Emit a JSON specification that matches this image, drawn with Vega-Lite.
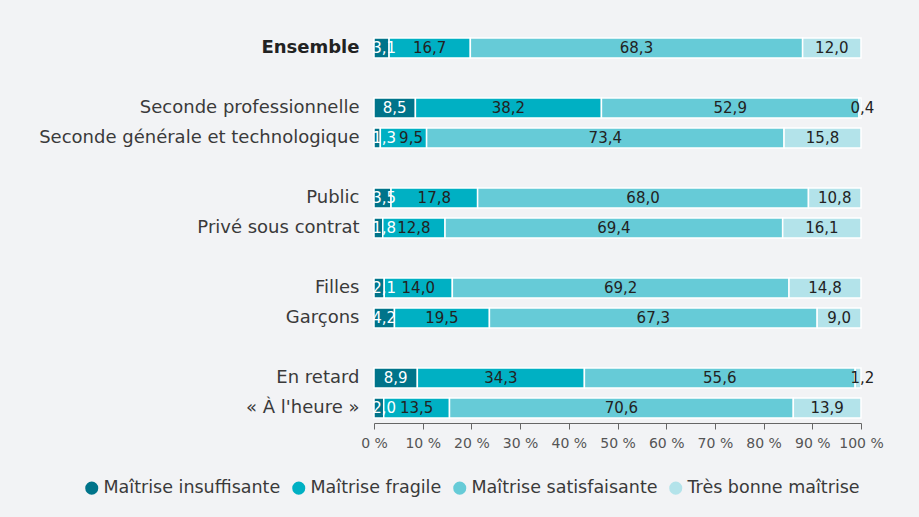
{
  "$schema": "https://vega.github.io/schema/vega-lite/v6.json",
  "width": 487,
  "height": 390,
  "autosize": {"type": "none"},
  "padding": {"left": 374, "top": 33, "right": 58, "bottom": 94},
  "background": "#f2f3f5",
  "config": {"view": {"stroke": null}, "font": "DejaVu Sans"},
  "data": {
    "values": [
      {"group": "Ensemble", "category": "Maîtrise insuffisante", "value": 3.1},
      {"group": "Ensemble", "category": "Maîtrise fragile", "value": 16.7},
      {"group": "Ensemble", "category": "Maîtrise satisfaisante", "value": 68.3},
      {"group": "Ensemble", "category": "Très bonne maîtrise", "value": 12.0},
      {"group": "Seconde professionnelle", "category": "Maîtrise insuffisante", "value": 8.5},
      {"group": "Seconde professionnelle", "category": "Maîtrise fragile", "value": 38.2},
      {"group": "Seconde professionnelle", "category": "Maîtrise satisfaisante", "value": 52.9},
      {"group": "Seconde professionnelle", "category": "Très bonne maîtrise", "value": 0.4},
      {"group": "Seconde générale et technologique", "category": "Maîtrise insuffisante", "value": 1.3},
      {"group": "Seconde générale et technologique", "category": "Maîtrise fragile", "value": 9.5},
      {"group": "Seconde générale et technologique", "category": "Maîtrise satisfaisante", "value": 73.4},
      {"group": "Seconde générale et technologique", "category": "Très bonne maîtrise", "value": 15.8},
      {"group": "Public", "category": "Maîtrise insuffisante", "value": 3.5},
      {"group": "Public", "category": "Maîtrise fragile", "value": 17.8},
      {"group": "Public", "category": "Maîtrise satisfaisante", "value": 68.0},
      {"group": "Public", "category": "Très bonne maîtrise", "value": 10.8},
      {"group": "Privé sous contrat", "category": "Maîtrise insuffisante", "value": 1.8},
      {"group": "Privé sous contrat", "category": "Maîtrise fragile", "value": 12.8},
      {"group": "Privé sous contrat", "category": "Maîtrise satisfaisante", "value": 69.4},
      {"group": "Privé sous contrat", "category": "Très bonne maîtrise", "value": 16.1},
      {"group": "Filles", "category": "Maîtrise insuffisante", "value": 2.1},
      {"group": "Filles", "category": "Maîtrise fragile", "value": 14.0},
      {"group": "Filles", "category": "Maîtrise satisfaisante", "value": 69.2},
      {"group": "Filles", "category": "Très bonne maîtrise", "value": 14.8},
      {"group": "Garçons", "category": "Maîtrise insuffisante", "value": 4.2},
      {"group": "Garçons", "category": "Maîtrise fragile", "value": 19.5},
      {"group": "Garçons", "category": "Maîtrise satisfaisante", "value": 67.3},
      {"group": "Garçons", "category": "Très bonne maîtrise", "value": 9.0},
      {"group": "En retard", "category": "Maîtrise insuffisante", "value": 8.9},
      {"group": "En retard", "category": "Maîtrise fragile", "value": 34.3},
      {"group": "En retard", "category": "Maîtrise satisfaisante", "value": 55.6},
      {"group": "En retard", "category": "Très bonne maîtrise", "value": 1.2},
      {"group": "« À l'heure »", "category": "Maîtrise insuffisante", "value": 2.0},
      {"group": "« À l'heure »", "category": "Maîtrise fragile", "value": 13.5},
      {"group": "« À l'heure »", "category": "Maîtrise satisfaisante", "value": 70.6},
      {"group": "« À l'heure »", "category": "Très bonne maîtrise", "value": 13.9}
    ]
  },
  "transform": [
    {"calculate": "indexof(['Maîtrise insuffisante','Maîtrise fragile','Maîtrise satisfaisante','Très bonne maîtrise'], datum.category)", "as": "ord"},
    {"stack": "value", "groupby": ["group"], "sort": [{"field": "ord", "order": "ascending"}], "offset": "normalize", "as": ["x0", "x1"]},
    {"calculate": "max((datum.x0 + datum.x1) / 2, min(datum.x0 + 0.021, 1.003), datum.ord == 1 ? 0.076 : 0)", "as": "mid"},
    {"calculate": "replace(format(datum.value, '.1f'), '.', ',')", "as": "lab"}
  ],
  "encoding": {
    "y": {
      "field": "group",
      "type": "nominal",
      "title": null,
      "scale": {
        "domain": ["Ensemble", "_g1", "Seconde professionnelle", "Seconde générale et technologique", "_g2", "Public", "Privé sous contrat", "_g3", "Filles", "Garçons", "_g4", "En retard", "« À l'heure »"],
        "paddingInner": 0.33,
        "paddingOuter": 0.165
      },
      "axis": {
        "domain": false,
        "ticks": false,
        "labelExpr": "indexof(datum.label, '_g') == 0 ? '' : datum.label",
        "labelFontSize": 18,
        "labelColor": {"condition": {"test": "datum.label == 'Ensemble'", "value": "#222222"}, "value": "#3a3a3a"},
        "labelFontWeight": {"condition": {"test": "datum.label == 'Ensemble'", "value": "bold"}, "value": "normal"},
        "labelPadding": 15,
        "labelLimit": 400
      }
    }
  },
  "layer": [
    {
      "mark": {"type": "bar", "stroke": "white", "strokeWidth": 1.5},
      "encoding": {
        "x": {
          "field": "x0",
          "type": "quantitative",
          "title": null,
          "scale": {"domain": [0, 1], "nice": false},
          "axis": {
            "values": [0, 0.1, 0.2, 0.3, 0.4, 0.5, 0.6, 0.7, 0.8, 0.9, 1],
            "labelExpr": "format(datum.value * 100, 'd') + ' %'",
            "labelOverlap": false,
            "labelFlush": false,
            "grid": false,
            "domainColor": "#666666",
            "tickColor": "#666666",
            "tickSize": 6,
            "labelFontSize": 14,
            "labelColor": "#555555",
            "labelPadding": 7
          }
        },
        "x2": {"field": "x1"},
        "color": {
          "field": "category",
          "type": "nominal",
          "scale": {
            "domain": ["Maîtrise insuffisante", "Maîtrise fragile", "Maîtrise satisfaisante", "Très bonne maîtrise"],
            "range": ["#00748a", "#00b0c3", "#66cbd7", "#b3e3ea"]
          },
          "legend": {
            "title": null,
            "orient": "none",
            "direction": "horizontal",
            "legendX": -291,
            "legendY": 446,
            "symbolType": "circle",
            "symbolSize": 170,
            "symbolStrokeWidth": 0,
            "labelFontSize": 17.5,
            "labelColor": "#3a3a3a",
            "labelOffset": 3,
            "columnPadding": 9,
            "labelLimit": 300
          }
        }
      }
    },
    {
      "mark": {"type": "text", "fontSize": 15},
      "encoding": {
        "x": {"field": "mid", "type": "quantitative"},
        "text": {"field": "lab"},
        "color": {"condition": {"test": "datum.category == 'Maîtrise insuffisante'", "value": "white"}, "value": "#222222"},
        "fontWeight": {"condition": {"test": "datum.group == 'Ensemble'", "value": "bold"}, "value": "normal"}
      }
    }
  ]
}
